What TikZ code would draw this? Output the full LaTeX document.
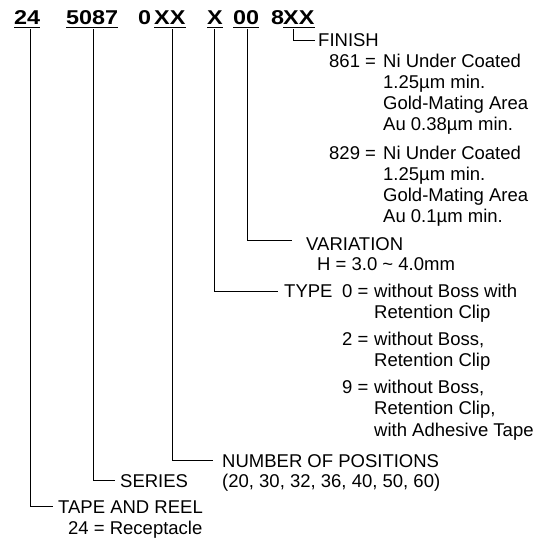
\documentclass[tikz,border=0pt]{standalone}
\usepackage{graphicx}
\usepackage{fontspec}
\setmainfont{Liberation Sans}

\begin{document}
\begin{tikzpicture}[x=1pt, y=-1pt,
    code/.style={anchor=base west, inner sep=0pt, font=\bfseries\fontsize{20}{24}\selectfont},
    txt/.style={anchor=base west, inner sep=0pt, font=\fontsize{18.5}{22}\selectfont},
    hook/.style={line width=1.1pt},
    uline/.style={line width=1.8pt}]
  \useasboundingbox (0,0) rectangle (542,542);
  % part number
  \node[code] (nReel) at (14,24) {\scalebox{1.17}[1]{24}};
  \node[code] (nSeries) at (66,24) {\scalebox{1.17}[1]{5087}};
  \node[code] (nZero) at (138,24) {\scalebox{1.17}[1]{0}};
  \node[code] (nPos) at (154,24) {\scalebox{1.17}[1]{XX}};
  \node[code] (nType) at (207,24) {\scalebox{1.17}[1]{X}};
  \node[code] (nVar) at (233,24) {\scalebox{1.17}[1]{00}};
  \node[code] (nEight) at (271,24) {\scalebox{1.17}[1]{8}};
  \node[code] (nFin) at (283,24) {\scalebox{1.17}[1]{XX}};
  \foreach \n in {nReel,nSeries,nPos,nType,nVar,nFin}
    \draw[uline] ([yshift=-3.5pt]\n.base west) -- ([yshift=-3.5pt]\n.base east);

  % finish
  \node[txt] (lFin) at (318,46.5) {FINISH};
  \node[txt] (f861) at (329,67) {861 =};
  \foreach \t [count=\i from 0] in {Ni Under Coated, 1.25µm min., Gold-Mating Area, Au 0.38µm min.}
    \node[txt] (fa\i) at (383,67+21.3*\i) {\t};
  \node[txt] (f829) at (329,159) {829 =};
  \foreach \t [count=\i from 0] in {Ni Under Coated, 1.25µm min., Gold-Mating Area, Au 0.1µm min.}
    \node[txt] (fb\i) at (383,159+21.3*\i) {\t};

  % variation
  \node[txt] (lVar) at (306,250) {VARIATION};
  \node[txt] (vH) at (317,270.5) {H = 3.0 \textasciitilde\ 4.0mm};

  % type
  \node[txt] (lType) at (284,297.5) {TYPE};
  \node[txt] (t0) at (342,297.5) {0 =};
  \node[txt] (ta0) at (374,297.5) {without Boss with};
  \node[txt] (ta1) at (374,318.8) {Retention Clip};
  \node[txt] (t2) at (342,345.5) {2 =};
  \node[txt] (tb0) at (374,345.5) {without Boss,};
  \node[txt] (tb1) at (374,366.8) {Retention Clip};
  \node[txt] (t9) at (342,393.5) {9 =};
  \foreach \t [count=\i from 0] in {{without Boss,}, {Retention Clip,}, with Adhesive Tape}
    \node[txt] (tc\i) at (374,393.5+21.3*\i) {\t};

  % positions, series, tape and reel
  \node[txt] (lPos) at (222,467) {NUMBER OF POSITIONS};
  \node[txt] (pVal) at (222,487.5) {(20, 30, 32, 36, 40, 50, 60)};
  \node[txt] (lSeries) at (120,487) {SERIES};
  \node[txt] (lReel) at (58,513) {TAPE AND REEL};
  \node[txt] (rVal) at (68,534) {24 = Receptacle};

  % leaders
  \draw[hook, shorten >=3pt] ([xshift=-5.6pt, yshift=-5pt]nFin.base) |- (lFin.west);
  \draw[hook, shorten >=14pt] ([xshift=1pt, yshift=-5pt]nVar.base) |- ([yshift=3pt]lVar.west);
  \draw[hook, shorten >=6pt] ([xshift=-0.8pt, yshift=-5pt]nType.base) |- (lType.west);
  \draw[hook, shorten >=9pt] ([xshift=2.4pt, yshift=-5pt]nPos.base) |- (lPos.west);
  \draw[hook, shorten >=5pt] ([xshift=1pt, yshift=-5pt]nSeries.base) |- (lSeries.west);
  \draw[hook, shorten >=5pt] ([xshift=3pt, yshift=-5pt]nReel.base) |- (lReel.west);
\end{tikzpicture}
\end{document}
